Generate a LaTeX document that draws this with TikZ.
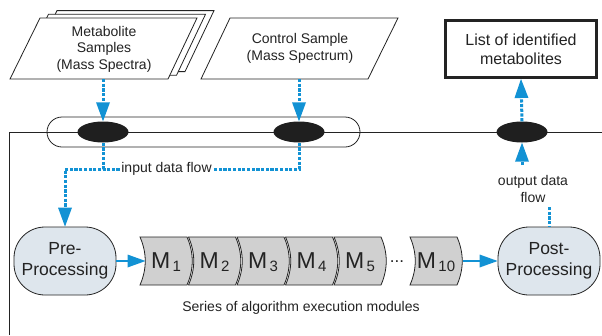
\documentclass[tikz,border=0pt]{standalone}
\usepackage{fontspec}
\setmainfont{Liberation Sans}
\usetikzlibrary{arrows.meta,shapes.geometric}
\definecolor{flowblue}{RGB}{18,146,212}
\definecolor{procfill}{RGB}{222,230,237}
\definecolor{modfill}{RGB}{208,208,208}
\definecolor{edgec}{RGB}{35,35,35}
\begin{document}
\begin{tikzpicture}[x=1pt,y=-1pt,
  lbl/.style={font=\fontsize{14}{16.5}\selectfont, text=edgec, align=center, inner sep=0pt},
  blob/.style={ellipse, fill=black!88, minimum width=51pt, minimum height=21pt, inner sep=0pt},
  dflow/.style={draw=flowblue, line width=3pt, dash pattern=on 3.2pt off 1.5pt},
  tipb/.style={-{Triangle[length=19pt,width=14pt,line width=0pt]}},
  sflow/.style={draw=flowblue, line width=2pt, -{Triangle[length=18pt,width=13pt,line width=0pt]}},
  sheet/.style={draw=edgec, fill=white, line width=0.8pt, line join=miter},
  proc/.style={draw=edgec, fill=procfill, rounded corners=31pt, minimum width=102pt, minimum height=68pt, align=center, font=\fontsize{17.5}{20.5}\selectfont, text=edgec, line width=0.8pt},
  modshape/.style={draw=edgec, fill=modfill, line width=0.8pt},
  modtxt/.style={inner sep=0pt, text=edgec},
  thin/.style={draw=edgec, line width=0.8pt}
]
\useasboundingbox (0,0) rectangle (602,335);

% stacked input sheets
\foreach \dx/\dy in {17/-7.4, 8.5/-3.7}{
  \path[sheet] (10+\dx,79+\dy) -- (168+\dx,79+\dy) -- (197+\dx,18+\dy) -- (40+\dx,18+\dy) -- cycle;
}
\path[sheet] (10,79) -- (168,79) -- (197,18) -- (40,18) -- cycle;
\node[lbl] (metab) at (104,49) {Metabolite\\Samples\\(Mass Spectra)};
\coordinate (metabbot) at (103,79);

\path[sheet] (201,79) -- (368,79) -- (398,18) -- (230,18) -- cycle;
\node[lbl] (ctrl) at (300,48.5) {Control Sample\\(Mass Spectrum)};
\coordinate (ctrlbot) at (299,79);

% output box
\node[draw=edgec, line width=3pt, minimum width=151pt, minimum height=57pt, align=center,
      font=\fontsize{16}{19}\selectfont, text=edgec] (outbox) at (521,49) {List of identified\\metabolites};

% bus line, frame and pill
\coordinate (corner) at (9,132);
\draw[thin] (9,335) -- (corner) -- (602,132);
\draw[thin, rounded corners=15pt] (47,117) rectangle (360,147);

\node[blob] (e1) at (103,132) {};
\node[blob] (e2) at (299,132) {};
\node[blob] (e3) at (522,132) {};

% processing nodes
\node[proc] (pre) at (65,261) {Pre-\\Processing};
\node[proc] (post) at (549,261) {Post-\\Processing};

% modules
\foreach \L/\n in {140/1, 188.5/2, 237/3, 285.5/4, 334/5, 410/10}{
  \path[modshape] (\L,237) .. controls (\L+7,253) and (\L+7,269) .. (\L,285) -- (\L+47,285)
     .. controls (\L+54,269) and (\L+54,253) .. (\L+47,237) -- cycle;
  \node[modtxt] (m\n) at (\L+26,262) {\fontsize{23}{23}\selectfont M\raisebox{-3pt}{\fontsize{15}{15}\selectfont\,\n}};
}
\coordinate (m1l) at (145.5,261);
\coordinate (m10r) at (462.5,261);
\node[modtxt, font=\fontsize{17}{17}\selectfont] (dots) at (397,262) {...};

\node[lbl] (series) at (301,308) {Series of algorithm execution modules};

% input flow
\draw[dflow, tipb] (metabbot) -- (e1.north);
\draw[dflow, tipb] (ctrlbot) -- (e2.north);
\node[lbl, fill=white, inner xsep=1.5pt] (inlbl) at (166.5,169) {input data flow};
\coordinate (jn) at (65,169);
\draw[dflow] (e2.south) |- (inlbl.east);
\draw[dflow] (inlbl.west) -- (jn -| e1);
\draw[dflow, tipb] (e1.south) |- (jn) -- (pre.north);

% pipeline arrows
\draw[sflow] (pre.east) -- (m1l);
\draw[sflow] (m10r) -- (post.west);

% output flow
\draw[dflow, tipb] (e3.north) -- (outbox.south);
\node[lbl] (outlbl) at (533,189) {output data\\flow};
\coordinate (oa) at (522,165);
\draw[dflow, tipb] (oa) -- (e3.south);
\coordinate (ob) at (549,207);
\draw[dflow] (ob) -- (post.north);
\end{tikzpicture}
\end{document}
